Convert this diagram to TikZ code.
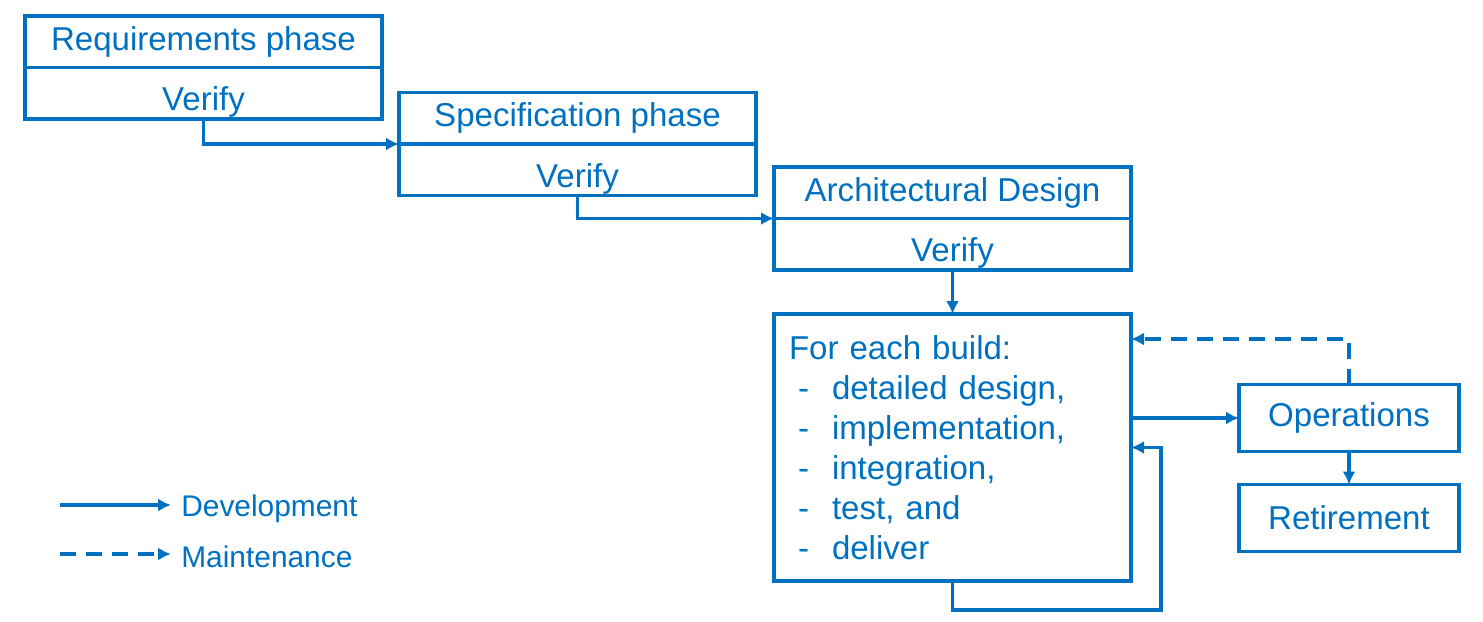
\documentclass[tikz,border=0pt]{standalone}
\usepackage{fontspec}
\setmainfont{Liberation Sans}
\usepackage{xcolor}
\usetikzlibrary{arrows.meta,positioning}
\definecolor{wfblue}{RGB}{0,112,192}
\newcommand{\builditem}[1]{\makebox[0.86cm][l]{\hspace{0.18cm}-}#1}
\tikzset{
  phasebox/.style={draw=wfblue, line width=1.9pt, outer sep=0pt, inner sep=0pt, text=wfblue, font=\fontsize{18.8}{22.7}\selectfont, minimum width=7.14cm, minimum height=1.03cm},
  verifybox/.style={phasebox, text height=0.83cm, text depth=0.14cm},
  buildbox/.style={phasebox, align=left, text width=6.54cm, minimum height=5.34cm},
  endbox/.style={phasebox, minimum width=4.4cm, minimum height=1.34cm},
  line/.style={-{Latex[length=0.26cm,width=0.26cm]}, draw=wfblue, line width=1.9pt},
  dline/.style={line, dash pattern=on 0.32cm off 0.2cm},
  legtext/.style={text=wfblue, font=\fontsize{17}{20}\selectfont, inner sep=0.2cm}
}
\begin{document}
\begin{tikzpicture}
  \useasboundingbox (0,0) rectangle (29.66,-12.44);
  % phases
  \node[phasebox] (req) at (4.07,-0.835) {Requirements phase};
  \node[verifybox, below=0pt of req] (reqv) {Verify};
  \node[phasebox, below right=0.5cm and 0.34cm of req] (spec) {Specification phase};
  \node[verifybox, below=0pt of spec] (specv) {Verify};
  \node[phasebox, below right=0.46cm and 0.36cm of spec] (arch) {Architectural Design};
  \node[verifybox, below=0pt of arch] (archv) {Verify};
  \node[buildbox, below=0.88cm of archv] (build) {For each build:\\
    \builditem{detailed design,}\\
    \builditem{implementation,}\\
    \builditem{integration,}\\
    \builditem{test, and}\\
    \builditem{deliver}};
  \node[endbox, right=2.16cm of build.east, yshift=0.59cm] (ops) {Operations};
  \node[endbox, below=0.66cm of ops] (ret) {Retirement};
  % connectors
  \draw[line] (reqv.south) |- (spec.south west);
  \draw[line] (specv.south) |- (arch.south west);
  \draw[line] (archv.south) -- (build.north);
  \draw[line] (ops.west -| build.east) -- (ops.west);
  \draw[dline] (ops.north) |- ([yshift=-0.5cm]build.north east);
  \draw[line] (ops.south) -- (ret.north);
  \draw[line] (build.south) -- ++(0,-0.58) -| ([xshift=0.6cm]build.east) -- (build.east);
  % legend
  \node[legtext, anchor=west] (dev) at (3.42,-10.18) {Development};
  \node[legtext, anchor=west] (mnt) at (3.42,-11.14) {Maintenance};
  \coordinate (devs) at (1.2,-10.1);
  \coordinate (mnts) at (1.2,-11.08);
  \draw[line] (devs) -- (devs -| dev.west);
  \draw[dline] (mnts) -- (mnts -| mnt.west);
\end{tikzpicture}
\end{document}
